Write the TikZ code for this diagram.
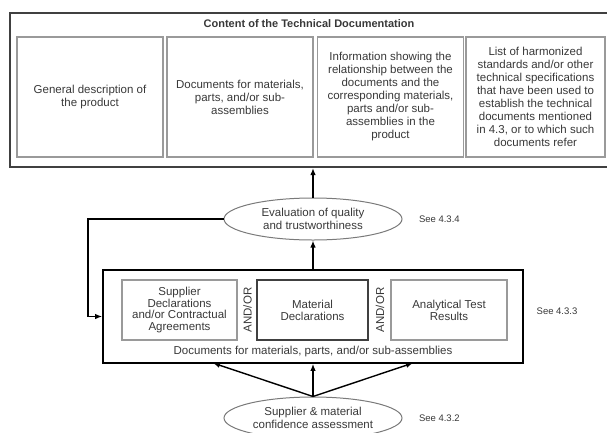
\documentclass[tikz,border=0pt]{standalone}
\usepackage{fontspec}
\setmainfont{Liberation Sans}
\usetikzlibrary{arrows.meta,positioning,shapes.geometric}
\definecolor{txtgray}{HTML}{383838}
\definecolor{framegray}{HTML}{404040}
\definecolor{boxgray}{HTML}{9A9A9A}
\definecolor{ovalgray}{HTML}{7A7A7A}
\tikzset{
  every node/.style={font=\fontsize{11.5}{12.6}\selectfont, text=txtgray},
  docbox/.style={draw=boxgray, line width=1.2pt, minimum height=120pt, align=center, inner sep=1pt, font=\fontsize{11.5}{13}\selectfont},
  sourcebox/.style={draw=boxgray, line width=1.2pt, minimum height=60pt, align=center, inner sep=1pt, font=\fontsize{11.5}{11.8}\selectfont},
  assessment/.style={ellipse, draw=ovalgray, line width=1pt, minimum width=178pt, minimum height=42pt, align=center, inner sep=0pt},
  seelabel/.style={font=\fontsize{9.5}{11}\selectfont},
  flow/.style={-{Latex[length=7pt,width=5.5pt]}, line width=1.4pt, draw=black}
}
\begin{document}
\begin{tikzpicture}[x=1pt,y=-1pt]
\useasboundingbox (0,0) rectangle (607,432);
\clip (0,0) rectangle (607,432);
\node[draw=framegray, line width=2pt, minimum width=598pt, minimum height=154pt, inner sep=0pt] (content) at (309,90) {};
\node[font=\bfseries\fontsize{11}{12}\selectfont] (title) at (309,24) {Content of the Technical Documentation};
\node[docbox, minimum width=146pt] (general) at (90,97) {General description of\\the product};
\node[docbox, minimum width=146pt] (documents) at (240,97) {Documents for materials,\\parts, and/or sub-\\assemblies};
\node[docbox, minimum width=146pt] (relation) at (390.5,97) {Information showing the\\relationship between the\\documents and the\\corresponding materials,\\parts and/or sub-\\assemblies in the\\product};
\node[docbox, minimum width=139pt] (standards) at (535.5,97) {List of harmonized\\standards and/or other\\technical specifications\\that have been used to\\establish the technical\\documents mentioned\\in 4.3, or to which such\\documents refer};
\node[assessment] (evaluation) at (313,219) {Evaluation of quality\\and trustworthiness};
\node[seelabel, right=13pt of evaluation] (see434) {See 4.3.4};
\node[draw=black, line width=1.6pt, minimum width=420pt, minimum height=93pt, inner sep=0pt] (docs) at (313,316.5) {};
\node[sourcebox, minimum width=115pt] (supplier) at (179.5,310) {Supplier\\Declarations\\and/or Contractual\\Agreements};
\node[sourcebox, minimum width=111pt, draw=framegray] (material) at (312.5,310) {Material\\Declarations};
\node[sourcebox, minimum width=116pt] (analytical) at (449,310) {Analytical Test\\Results};
\node[rotate=90] (andor1) at (247.5,310) {AND/OR};
\node[rotate=90] (andor2) at (380,310) {AND/OR};
\node (docslabel) at (313,352) {Documents for materials, parts, and/or sub-assemblies};
\node[seelabel] (see433) at (557,311) {See 4.3.3};
\node[assessment] (confidence) at (313,418) {Supplier \& material\\confidence assessment};
\node[seelabel, right=13pt of confidence] (see432) {See 4.3.2};
\coordinate (loop) at (88,219);
\coordinate (tipA) at (213,363);
\coordinate (tipC) at (413,363);
\draw[flow] (evaluation.north) -- (evaluation.north |- content.south);
\draw[flow] (docs.north) -- (evaluation.south);
\draw[flow] (evaluation.west) -- (loop) |- (docs.west);
\draw[flow] (confidence.north) -- (docs.south);
\draw[flow] (confidence.north) -- (tipA);
\draw[flow] (confidence.north) -- (tipC);
\end{tikzpicture}
\end{document}
